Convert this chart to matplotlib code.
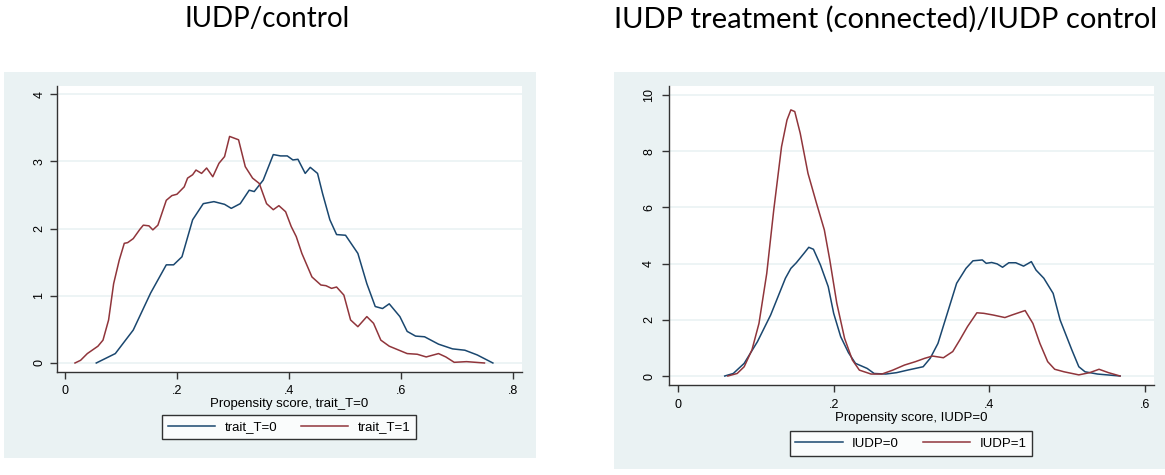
import matplotlib
matplotlib.use("Agg")
import matplotlib.pyplot as plt
from matplotlib.patches import Rectangle

# --- data ---
# left panel: propensity score densities, trait_T=0 / trait_T=1
left_x0 = [0.056, 0.090, 0.122, 0.153, 0.181, 0.194, 0.209, 0.228, 0.247, 0.266,
           0.285, 0.297, 0.313, 0.329, 0.338, 0.354, 0.372, 0.385, 0.397, 0.407,
           0.416, 0.429, 0.438, 0.451, 0.460, 0.473, 0.485, 0.501, 0.523, 0.539,
           0.554, 0.567, 0.579, 0.598, 0.611, 0.626, 0.642, 0.667, 0.692, 0.714,
           0.736, 0.764]
left_y0 = [0.00, 0.14, 0.49, 1.04, 1.46, 1.46, 1.58, 2.13, 2.37, 2.40,
           2.36, 2.30, 2.37, 2.57, 2.55, 2.72, 3.10, 3.08, 3.08, 3.02,
           3.03, 2.82, 2.91, 2.82, 2.52, 2.13, 1.91, 1.90, 1.63, 1.18,
           0.84, 0.81, 0.88, 0.69, 0.47, 0.40, 0.39, 0.28, 0.21, 0.19,
           0.12, 0.00]
left_x1 = [0.018, 0.028, 0.040, 0.059, 0.068, 0.078, 0.087, 0.097, 0.106, 0.112,
           0.122, 0.134, 0.140, 0.150, 0.157, 0.166, 0.181, 0.191, 0.200, 0.213,
           0.219, 0.228, 0.234, 0.244, 0.253, 0.264, 0.275, 0.285, 0.294, 0.310,
           0.322, 0.335, 0.347, 0.360, 0.372, 0.382, 0.394, 0.404, 0.413, 0.423,
           0.441, 0.457, 0.466, 0.476, 0.485, 0.498, 0.510, 0.523, 0.539, 0.551,
           0.564, 0.579, 0.611, 0.629, 0.645, 0.667, 0.680, 0.695, 0.717, 0.749]
left_y1 = [0.00, 0.04, 0.14, 0.25, 0.34, 0.64, 1.18, 1.53, 1.78, 1.79,
           1.85, 1.99, 2.05, 2.04, 1.98, 2.05, 2.42, 2.49, 2.51, 2.62,
           2.75, 2.80, 2.87, 2.82, 2.90, 2.77, 2.97, 3.07, 3.37, 3.32,
           2.92, 2.75, 2.67, 2.37, 2.28, 2.34, 2.25, 2.03, 1.88, 1.63,
           1.28, 1.16, 1.15, 1.11, 1.13, 1.01, 0.64, 0.54, 0.69, 0.59,
           0.34, 0.25, 0.14, 0.13, 0.09, 0.14, 0.09, 0.01, 0.02, 0.00]

# right panel: IUDP=0 / IUDP=1
right_x0 = [0.060, 0.071, 0.085, 0.102, 0.119, 0.138, 0.145, 0.152, 0.162, 0.168,
            0.174, 0.183, 0.193, 0.200, 0.209, 0.219, 0.228, 0.243, 0.252, 0.267,
            0.281, 0.295, 0.315, 0.324, 0.334, 0.346, 0.358, 0.370, 0.379, 0.391,
            0.396, 0.403, 0.410, 0.417, 0.425, 0.434, 0.444, 0.454, 0.460, 0.470,
            0.482, 0.491, 0.506, 0.515, 0.523, 0.539, 0.568]
right_y0 = [0.00, 0.09, 0.45, 1.22, 2.17, 3.48, 3.83, 4.03, 4.37, 4.58,
            4.51, 3.95, 3.18, 2.23, 1.40, 0.83, 0.45, 0.27, 0.09, 0.07,
            0.12, 0.21, 0.33, 0.63, 1.16, 2.23, 3.30, 3.83, 4.10, 4.13,
            4.01, 4.04, 3.99, 3.87, 4.03, 4.03, 3.91, 4.07, 3.77, 3.48,
            2.94, 1.99, 0.93, 0.33, 0.15, 0.07, 0.00]
right_x1 = [0.064, 0.076, 0.085, 0.095, 0.104, 0.114, 0.123, 0.133, 0.140, 0.145,
            0.150, 0.157, 0.167, 0.178, 0.188, 0.195, 0.204, 0.214, 0.224, 0.233,
            0.248, 0.262, 0.276, 0.291, 0.305, 0.317, 0.327, 0.341, 0.353, 0.362,
            0.372, 0.384, 0.393, 0.405, 0.420, 0.429, 0.446, 0.456, 0.465, 0.475,
            0.484, 0.496, 0.515, 0.529, 0.541, 0.553, 0.568]
right_y1 = [0.00, 0.09, 0.33, 0.93, 1.87, 3.65, 5.91, 8.16, 9.11, 9.47,
            9.41, 8.64, 7.21, 6.14, 5.20, 4.13, 2.59, 1.34, 0.57, 0.21,
            0.07, 0.07, 0.21, 0.39, 0.51, 0.63, 0.71, 0.65, 0.87, 1.28,
            1.76, 2.25, 2.23, 2.17, 2.08, 2.17, 2.33, 1.87, 1.16, 0.51,
            0.24, 0.15, 0.04, 0.12, 0.24, 0.12, 0.00]

left_xticks = [0, 0.2, 0.4, 0.6, 0.8]
left_xticklabels = ["0", ".2", ".4", ".6", ".8"]
left_yticks = [0, 1, 2, 3, 4]
right_xticks = [0, 0.2, 0.4, 0.6]
right_xticklabels = ["0", ".2", ".4", ".6"]
right_yticks = [0, 2, 4, 6, 8, 10]

NAVY = "#1a476f"
MAROON = "#90353b"
BG = "#eaf2f3"
W, H = 1165, 475

plt.rcParams["font.family"] = ["Liberation Sans", "DejaVu Sans"]

fig = plt.figure(figsize=(W / 100, H / 100), dpi=100)
fig.patch.set_facecolor("white")


def px_rect(x0, y0, x1, y1):
    # pixel box (top-left origin) -> figure fraction [l, b, w, h]
    return [x0 / W, (H - y1) / H, (x1 - x0) / W, (y1 - y0) / H]


# gray graph regions, behind the axes
for box in [(4, 72, 536, 458), (614, 72, 1165, 469)]:
    l, b, w, h = px_rect(*box)
    fig.patches.append(Rectangle((l, b), w, h, transform=fig.transFigure,
                                 facecolor=BG, edgecolor="none", zorder=-5))


def style(ax, xticks, xlabels, yticks, xlim, ylim, xlabel, xpad, ypad, lpad):
    ax.set_facecolor("white")
    ax.set_xlim(*xlim)
    ax.set_ylim(*ylim)
    ax.set_xticks(xticks)
    ax.set_xticklabels(xlabels)
    ax.set_yticks(yticks)
    ax.set_yticklabels([str(t) for t in yticks], rotation=90, va="center")
    for s in ["top", "right"]:
        ax.spines[s].set_visible(False)
    for s in ["left", "bottom"]:
        ax.spines[s].set_color("#333333")
        ax.spines[s].set_linewidth(1.0)
    ax.tick_params(direction="out", length=5, width=1.0, color="#333333",
                   labelsize=9)
    ax.tick_params(axis="x", pad=xpad)
    ax.tick_params(axis="y", pad=ypad)
    ax.yaxis.grid(True, color=BG, linewidth=1.2)
    ax.set_axisbelow(True)
    ax.set_xlabel(xlabel, fontsize=9.5, labelpad=lpad)


ax1 = fig.add_axes(px_rect(56.5, 86, 522, 372))
ax1.plot(left_x0, left_y0, color=NAVY, lw=1.1, label="trait_T=0")
ax1.plot(left_x1, left_y1, color=MAROON, lw=1.1, label="trait_T=1")
style(ax1, left_xticks, left_xticklabels, left_yticks,
      (-0.015, 0.816), (-0.134, 4.12), "Propensity score, trait_T=0",
      xpad=4, ypad=3, lpad=1)

ax2 = fig.add_axes(px_rect(669, 86, 1154, 385))
ax2.plot(right_x0, right_y0, color=NAVY, lw=1.1, label="IUDP=0")
ax2.plot(right_x1, right_y1, color=MAROON, lw=1.1, label="IUDP=1")
style(ax2, right_xticks, right_xticklabels, right_yticks,
      (-0.0116, 0.6116), (-0.32, 10.32), "Propensity score, IUDP=0",
      xpad=5, ypad=5, lpad=1)

for ax, cx, cy in [(ax1, 289, 427), (ax2, 911, 443.5)]:
    leg = ax.legend(loc="center", bbox_to_anchor=(cx / W, 1 - cy / H),
                    bbox_transform=fig.transFigure, ncol=2, fontsize=9.5,
                    frameon=True, fancybox=False, edgecolor="black",
                    handlelength=3.6, handletextpad=0.7, columnspacing=1.8,
                    borderpad=0.45)
    leg.get_frame().set_linewidth(1.0)

title_font = ["Lato", "DejaVu Sans"]
fig.text(267 / W, 1 - 19 / H, "IUDP/control", ha="center", va="center",
         fontsize=20, family=title_font)
fig.text(886 / W, 1 - 19 / H, "IUDP treatment (connected)/IUDP control",
         ha="center", va="center", fontsize=21, family=title_font)

fig.savefig("out.png", dpi=100)
